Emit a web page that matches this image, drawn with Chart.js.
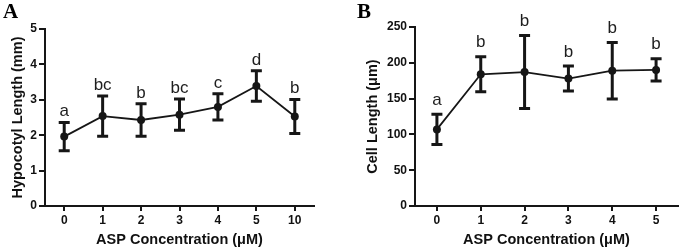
<!DOCTYPE html>
<html>
<head>
<meta charset="utf-8">
<script src="https://cdn.jsdelivr.net/npm/chart.js@4/dist/chart.umd.min.js"></script>
<style>
  body { margin: 0; background: #fff; }
  .panel { position: absolute; top: 0; }
</style>
</head>
<body>
<div class="panel" style="left:0"><canvas id="chartA" width="340" height="249"></canvas></div>
<div class="panel" style="left:340px"><canvas id="chartB" width="345" height="249"></canvas></div>
<script>
// Panel A: hypocotyl length
const concA = ["0", "1", "2", "3", "4", "5", "10"];
const meanA = [1.96, 2.54, 2.43, 2.58, 2.80, 3.39, 2.53];
const errA = [0.40, 0.57, 0.46, 0.44, 0.37, 0.43, 0.48];
const lettersA = ["a", "bc", "b", "bc", "c", "d", "b"];
const ticksA = [0, 1, 2, 3, 4, 5];

// Panel B: cell length
const concB = ["0", "1", "2", "3", "4", "5"];
const meanB = [107, 184, 187, 178, 189, 190];
const errB = [21, 24.5, 51, 17.5, 39.5, 15.5];
const lettersB = ["a", "b", "b", "b", "b", "b"];
const ticksB = [0, 50, 100, 150, 200, 250];

const INK = "#161616";
const SANS = "'Liberation Sans', Arial, sans-serif";

// error bars, significance letters and the panel letter
const errorBarPlugin = {
  id: "errorBars",
  afterDatasetsDraw(chart, args, opts) {
    const { ctx } = chart;
    const xs = chart.scales.x;
    const ys = chart.scales.y;
    ctx.save();
    ctx.strokeStyle = INK;
    ctx.lineWidth = 3;
    ctx.lineCap = "butt";
    opts.mean.forEach((m, i) => {
      const x = xs.getPixelForValue(i);
      const top = ys.getPixelForValue(m + opts.err[i]);
      const bot = ys.getPixelForValue(m - opts.err[i]);
      ctx.beginPath();
      ctx.moveTo(x, top);
      ctx.lineTo(x, bot);
      ctx.moveTo(x - 5.5, top);
      ctx.lineTo(x + 5.5, top);
      ctx.moveTo(x - 5.5, bot);
      ctx.lineTo(x + 5.5, bot);
      ctx.stroke();

      ctx.fillStyle = "#1e1e1e";
      ctx.font = "17px " + SANS;
      ctx.textAlign = "center";
      ctx.textBaseline = "alphabetic";
      ctx.fillText(opts.letters[i], x, top - opts.gap);
    });
    ctx.fillStyle = "#000";
    ctx.font = "bold 21px 'Liberation Serif', 'Times New Roman', serif";
    ctx.textAlign = "left";
    ctx.fillText(opts.panel, opts.panelX, 18);
    ctx.restore();
  },
};

function makeChart(id, labels, mean, err, letters, yTicks, yTitle, cfg) {
  const yMax = yTicks[yTicks.length - 1];
  return new Chart(document.getElementById(id), {
    type: "line",
    data: {
      labels: labels,
      datasets: [
        {
          data: mean,
          borderColor: INK,
          borderWidth: 1.8,
          backgroundColor: INK,
          pointRadius: 4,
          pointBorderWidth: 0,
          tension: 0,
          fill: false,
        },
      ],
    },
    options: {
      responsive: false,
      animation: false,
      layout: { padding: { top: cfg.top, right: cfg.right, bottom: 0, left: 0 } },
      plugins: {
        legend: { display: false },
        tooltip: { enabled: false },
        errorBars: {
          mean: mean,
          err: err,
          letters: letters,
          gap: cfg.gap,
          panel: cfg.panel,
          panelX: cfg.panelX,
        },
      },
      scales: {
        x: {
          type: "category",
          offset: true,
          grid: {
            offset: false,
            drawOnChartArea: false,
            color: INK,
            lineWidth: 2,
            tickLength: 5,
          },
          border: { color: INK, width: 2 },
          ticks: {
            color: "#111",
            padding: 2,
            font: { family: SANS, size: 12, weight: "bold" },
            maxRotation: 0,
          },
          title: {
            display: true,
            text: "ASP Concentration (μM)",
            color: "#111",
            font: { family: SANS, size: 14.5, weight: "bold" },
            padding: { top: 0, bottom: 0.5 },
          },
          afterFit(scale) {
            scale.height = 249 - 206 - cfg.top + cfg.top;
          },
        },
        y: {
          min: 0,
          max: yMax,
          afterBuildTicks(scale) {
            scale.ticks = yTicks.map((v) => ({ value: v }));
          },
          grid: {
            drawOnChartArea: false,
            color: INK,
            lineWidth: 2,
            tickLength: 6,
          },
          border: { color: INK, width: 2 },
          ticks: {
            color: "#111",
            padding: 2,
            font: { family: SANS, size: 12, weight: "bold" },
          },
          title: {
            display: true,
            text: yTitle,
            color: "#111",
            font: { family: SANS, size: 14.5, weight: "bold" },
            padding: { top: cfg.titleX - 8.7, bottom: 0 },
          },
          afterFit(scale) {
            scale.width = cfg.axisLeft;
          },
        },
      },
    },
    plugins: [errorBarPlugin],
  });
}

makeChart("chartA", concA, meanA, errA, lettersA, ticksA, "Hypocotyl Length (mm)", {
  top: 29,
  right: 26,
  axisLeft: 45,
  titleX: 18,
  gap: 6,
  panel: "A",
  panelX: 3,
});

makeChart("chartB", concB, meanB, errB, lettersB, ticksB, "Cell Length (μm)", {
  top: 27,
  right: 7,
  axisLeft: 75,
  titleX: 33,
  gap: 9.5,
  panel: "B",
  panelX: 17,
});
</script>
</body>
</html>
